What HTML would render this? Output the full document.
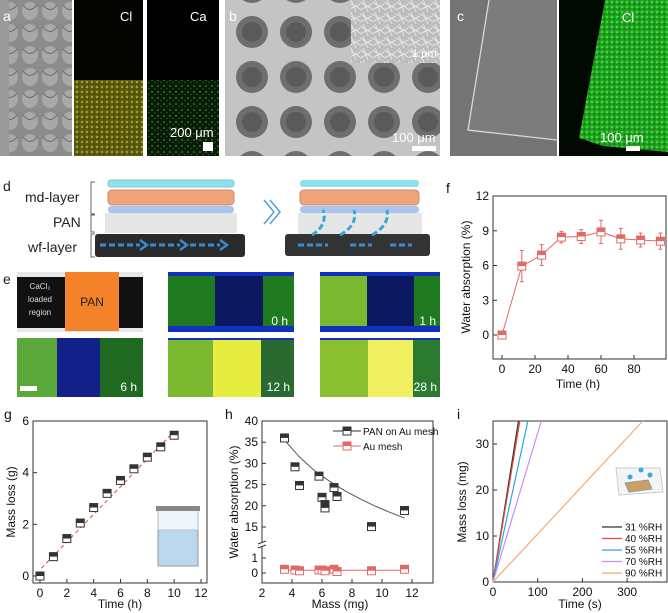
<!DOCTYPE html>
<html><head><meta charset="utf-8">
<style>
body{margin:0;background:#fff;width:668px;height:613px;overflow:hidden;font-family:"Liberation Sans",sans-serif}
svg{display:block}
text{font-family:"Liberation Sans",sans-serif}
</style></head>
<body>
<svg id="fig" width="668" height="613" viewBox="0 0 668 613" xmlns="http://www.w3.org/2000/svg">
<defs>
<pattern id="dotsG" width="6" height="6" patternUnits="userSpaceOnUse"><rect width="6" height="6" fill="#0a1a08"/><circle cx="2" cy="2" r="0.9" fill="#2f9a2a"/><circle cx="5" cy="4.5" r="0.7" fill="#1f6a1a"/></pattern>
<pattern id="dotsY" width="5" height="5" patternUnits="userSpaceOnUse"><rect width="5" height="5" fill="#5a5a10"/><circle cx="2" cy="2" r="1.2" fill="#a8a020"/><circle cx="4" cy="4" r="0.6" fill="#2a2a05"/></pattern>
<pattern id="dotsGG" width="5" height="5" patternUnits="userSpaceOnUse"><rect width="5" height="5" fill="#1f9e1f"/><circle cx="2" cy="2" r="1.3" fill="#3fd83f"/><circle cx="4.2" cy="4" r="0.7" fill="#0e5a0e"/></pattern>
<pattern id="weave" width="20" height="22" patternUnits="userSpaceOnUse"><rect width="20" height="22" fill="#8c8c8c"/><ellipse cx="10" cy="11" rx="8" ry="9" fill="#a8a8a8"/><path d="M3 5 Q10 14 17 5" stroke="#6a6a6a" fill="none"/></pattern>
<pattern id="mesh" width="44" height="45" patternUnits="userSpaceOnUse" x="230" y="10"><rect width="44" height="45" fill="#c4c4c4"/><circle cx="22" cy="22" r="16" fill="#6e6e6e"/><circle cx="22" cy="22" r="10" fill="#5a5a5a"/></pattern>
<pattern id="fib" width="12" height="12" patternUnits="userSpaceOnUse"><rect width="12" height="12" fill="#bdbdbd"/><path d="M0 2 L12 9 M3 0 L8 12 M0 10 L12 4" stroke="#eee" stroke-width="0.8"/></pattern>
</defs>

<g>
<rect x="0" y="0" width="72" height="156" fill="url(#weave)"/>
<rect x="0" y="0" width="9" height="156" fill="#9a9a9a"/>
<rect x="74" y="0" width="69" height="156" fill="#050500"/>
<rect x="74" y="80" width="69" height="76" fill="url(#dotsY)"/>
<rect x="147" y="0" width="72" height="156" fill="#000"/>
<rect x="147" y="80" width="72" height="76" fill="url(#dotsG)"/>
<text x="3" y="21" font-size="14" fill="#fff">a</text>
<text x="120" y="21" font-size="13" fill="#fff">Cl</text>
<text x="190" y="21" font-size="13" fill="#fff">Ca</text>
<text x="170" y="137" font-size="13" fill="#fff">200 μm</text>
<rect x="203" y="142" width="10" height="9" fill="#fff"/>
</g>

<g>
<rect x="225" y="0" width="215" height="156" fill="url(#mesh)"/>
<rect x="351" y="0" width="89" height="63" fill="url(#fib)"/>
<text x="229" y="21" font-size="14" fill="#fff">b</text>
<text x="412" y="57" font-size="11" fill="#fff">1 μm</text>
<text x="392" y="142" font-size="13" fill="#fff">100 μm</text>
<rect x="412" y="146" width="24" height="5" fill="#fff"/>
</g>

<g>
<rect x="450" y="0" width="107" height="156" fill="#7c7c7c"/>
<polygon points="450,0 489,0 468,132 557,140 557,156 450,156" fill="#747474"/>
<path d="M489 0 L468 130 L557 140" stroke="#d8d8d8" stroke-width="1.3" fill="none"/>
<rect x="559" y="0" width="109" height="156" fill="#020802"/>
<polygon points="605,0 668,0 668,152 603,146 579,138" fill="url(#dotsGG)"/>
<text x="457" y="21" font-size="14" fill="#fff">c</text>
<text x="622" y="22" font-size="13" fill="#fff">Cl</text>
<text x="600" y="142" font-size="13" fill="#fff">100 μm</text>
<rect x="626" y="146" width="14" height="5" fill="#fff"/>
</g>

<g>
<text x="3" y="191" font-size="14" fill="#222">d</text>
<text x="25" y="202" font-size="14" fill="#222">md-layer</text>
<text x="53" y="227" font-size="14" fill="#222">PAN</text>
<text x="28" y="252" font-size="14" fill="#222">wf-layer</text>
<path d="M95 182 H91 V214 H95 M95 215 H91 V232 H95 M95 234 H91 V257 H95" stroke="#666" fill="none"/>
<g>
<rect x="108" y="180" width="126" height="7" rx="3" fill="#8fe0ec" stroke="#7cc"/>
<rect x="108" y="190" width="126" height="15" rx="4" fill="#f1a47a" stroke="#c87"/>
<rect x="108" y="206" width="126" height="7" rx="3" fill="#a9c6ef"/>
<rect x="105" y="213" width="132" height="20" fill="#e6e6e6"/>
<rect x="95" y="234" width="150" height="23" rx="3" fill="#2a2a2a"/>
<path d="M100 245 H140 M150 245 H180 M190 245 H220" stroke="#3a8ad0" stroke-width="3" stroke-dasharray="6 3"/>
<path d="M140 240 L147 245 L140 250 M180 240 L187 245 L180 250 M220 240 L227 245 L220 250" stroke="#3a8ad0" stroke-width="2.5" fill="none"/>
</g>
<path d="M264 200 L274 212 L264 224 M270 200 L280 212 L270 224" stroke="#4aa0e0" stroke-width="1.5" fill="none"/>
<g>
<rect x="300" y="180" width="119" height="7" rx="3" fill="#8fe0ec"/>
<rect x="300" y="190" width="119" height="15" rx="4" fill="#f1a47a" stroke="#c87"/>
<rect x="300" y="206" width="119" height="7" rx="3" fill="#a9c6ef"/>
<rect x="298" y="213" width="124" height="21" fill="#e6e6e6"/>
<rect x="285" y="234" width="145" height="22" rx="3" fill="#333"/>
<path d="M298 245 H328 M350 245 H372 M390 245 H412" stroke="#3a8ad0" stroke-width="3" stroke-dasharray="6 3"/>
<path d="M312 235 Q328 225 323 210 M340 235 Q358 225 354 210 M372 235 Q390 225 387 210" stroke="#3aa6d8" stroke-width="3" stroke-dasharray="6 3" fill="none"/>
</g>
</g>

<g>
<text x="3" y="284" font-size="14" fill="#222">e</text>
<rect x="17" y="272" width="126" height="60" fill="#e8e8e8"/>
<rect x="17" y="277" width="126" height="51" fill="#111"/>
<rect x="65" y="272" width="54" height="59" fill="#f4822a"/>
<text x="40" y="289" font-size="8" fill="#ddd" text-anchor="middle">CaCl₂</text>
<text x="40" y="302" font-size="8" fill="#ddd" text-anchor="middle">loaded</text>
<text x="40" y="315" font-size="8" fill="#ddd" text-anchor="middle">region</text>
<text x="92" y="306" font-size="12" fill="#222" text-anchor="middle">PAN</text>
<g><rect x="168" y="272" width="126" height="60" fill="#1030c0"/><rect x="168" y="276" width="47" height="50" fill="#1f7a20"/><rect x="215" y="276" width="48" height="50" fill="#0c1860"/><rect x="263" y="276" width="31" height="50" fill="#1f7a20"/><text x="288" y="325" font-size="12" fill="#fff" text-anchor="end">0 h</text></g>
<g><rect x="320" y="272" width="120" height="60" fill="#1030c0"/><rect x="320" y="276" width="47" height="50" fill="#7ab830"/><rect x="367" y="276" width="47" height="50" fill="#0c1860"/><rect x="414" y="276" width="26" height="50" fill="#1f7a20"/><text x="436" y="325" font-size="12" fill="#fff" text-anchor="end">1 h</text></g>
<g><rect x="17" y="338" width="126" height="59" fill="#1030c0"/><rect x="17" y="338" width="40" height="59" fill="#5aa83a"/><rect x="57" y="338" width="43" height="59" fill="#14208a"/><rect x="100" y="338" width="43" height="59" fill="#1f6a20"/><rect x="20" y="386" width="17" height="5" fill="#fff"/><text x="137" y="391" font-size="12" fill="#fff" text-anchor="end">6 h</text></g>
<g><rect x="168" y="338" width="126" height="59" fill="#1030c0"/><rect x="168" y="340" width="45" height="57" fill="#7ab830"/><rect x="213" y="340" width="48" height="57" fill="#e6ec40"/><rect x="261" y="340" width="33" height="57" fill="#2a6a30"/><text x="290" y="391" font-size="12" fill="#fff" text-anchor="end">12 h</text></g>
<g><rect x="320" y="338" width="120" height="59" fill="#1030c0"/><rect x="320" y="340" width="48" height="57" fill="#8ac030"/><rect x="368" y="340" width="45" height="57" fill="#f0f060"/><rect x="413" y="340" width="27" height="57" fill="#2a7a30"/><text x="437" y="391" font-size="12" fill="#fff" text-anchor="end">28 h</text></g>
</g>

<g id="charts"></g>
</svg>

<script>
const fTime = [0, 12, 24, 36, 48, 60, 72, 84, 96];
const fAbs = [0, 5.95, 6.9, 8.45, 8.5, 8.9, 8.3, 8.2, 8.1];
const fErr = [0.1, 1.35, 0.9, 0.5, 0.6, 1.0, 0.9, 0.6, 0.7];
const fXTicks = [0, 20, 40, 60, 80];
const fYTicks = [0, 3, 6, 9, 12];

const gTime = [0, 1, 2, 3, 4, 5, 6, 7, 8, 9, 10];
const gMass = [0, 0.75, 1.45, 2.05, 2.65, 3.2, 3.7, 4.15, 4.6, 5.0, 5.45];
const gFitX = [0.1, 10];
const gFitY = [0.3, 5.6];
const gXTicks = [0, 2, 4, 6, 8, 10, 12];
const gYTicks = [0, 2, 4, 6];

const hPanMass = [3.5, 4.2, 4.5, 5.8, 6.0, 6.2, 6.2, 6.8, 7.0, 9.3, 11.5];
const hPanAbs = [36, 29.2, 24.8, 27, 22, 20.3, 19.5, 24.3, 22.2, 15.1, 18.9];
const hAuMass = [3.5, 4.2, 4.5, 5.8, 6.0, 6.2, 6.8, 7.0, 9.3, 11.5];
const hAuAbs = [0.25, 0.2, 0.15, 0.2, 0.2, 0.15, 0.25, 0.1, 0.15, 0.25];
const hFitX = [3.5, 4.5, 5.5, 6.5, 7.5, 8.5, 9.5, 10.5, 11.5];
const hFitY = [35.5, 31.5, 28.3, 25.8, 23.6, 21.7, 20.0, 18.5, 17.1];
const hXTicks = [2, 4, 6, 8, 10, 12];
const hYTicksUpper = [15, 20, 25, 30, 35, 40];
const hYTicksLower = [0, 1];

const iLabels = ['31 %RH', '40 %RH', '55 %RH', '70 %RH', '90 %RH'];
const iEndTime = [57, 60, 78, 108, 335];
const iEndMass = [35, 35, 35, 35, 35];
const iColors = ['#333333', '#e0463a', '#2aa6e0', '#c78cf8', '#f6aa70'];
const iXTicks = [0, 100, 200, 300];
const iYTicks = [0, 10, 20, 30];

const NS = 'http://www.w3.org/2000/svg';
const root = document.getElementById('charts');
function mk(tag, attrs, parent) {
  const e = document.createElementNS(NS, tag);
  for (const k in attrs) e.setAttribute(k, attrs[k]);
  (parent || root).appendChild(e);
  return e;
}
function txt(s, x, y, size, anchor, parent, rot) {
  const t = mk('text', {x: x, y: y, 'font-size': size, fill: '#111', 'text-anchor': anchor || 'middle'}, parent);
  if (rot) t.setAttribute('transform', 'rotate(-90 ' + x + ' ' + y + ')');
  t.textContent = s;
  return t;
}
function marker(g, x, y, color) {
  const m = mk('g', {}, g);
  
  
  mk('rect', {x: x - 4, y: y - 4, width: 8, height: 8, fill: '#fff', stroke: color, 'stroke-width': 1}, m);
  mk('rect', {x: x - 4, y: y - 4, width: 8, height: 4, fill: color}, m);
}
function axes(g, L, R, T, B) {
  mk('rect', {x: L, y: T, width: R - L, height: B - T, fill: 'none', stroke: '#333', 'stroke-width': 1}, g);
}

(function () {
  const g = mk('g', {});
  
  
  const L = 493, R = 666, T = 196, B = 359;
  const x = v => 502 + v * (634 - 502) / 80;
  const y = v => 335 - v * (335 - 196) / 12;
  axes(g, L, R, T, B);
  txt('f', 446, 193, 14, 'start', g);
  fXTicks.forEach(v => { mk('line', {x1: x(v), x2: x(v), y1: B, y2: B - 4, stroke: '#333'}, g); txt(v, x(v), B + 14, 12, 'middle', g); });
  fYTicks.forEach(v => { mk('line', {x1: L, x2: L + 4, y1: y(v), y2: y(v), stroke: '#333'}, g); txt(v, L - 4, y(v) + 4, 12, 'end', g); });
  const xl = txt('Time (h)', 578, 388, 12, 'middle', g);
  
  
  const yl = txt('Water absorption (%)', 470, 277, 12, 'middle', g, true);
  
  
  const col = '#e06a64';
  mk('polyline', {points: fTime.map((t, i) => x(t) + ',' + y(fAbs[i])).join(' '), fill: 'none', stroke: col, 'stroke-width': 1}, g);
  fTime.forEach((t, i) => {
    const xx = x(t);
    mk('line', {x1: xx, x2: xx, y1: y(fAbs[i] + fErr[i]), y2: y(fAbs[i] - fErr[i]), stroke: col}, g);
    mk('line', {x1: xx - 2, x2: xx + 2, y1: y(fAbs[i] + fErr[i]), y2: y(fAbs[i] + fErr[i]), stroke: col}, g);
    mk('line', {x1: xx - 2, x2: xx + 2, y1: y(fAbs[i] - fErr[i]), y2: y(fAbs[i] - fErr[i]), stroke: col}, g);
    marker(g, xx, y(fAbs[i]), col);
  });
})();

(function () {
  const g = mk('g', {});
  
  
  const L = 33, R = 207, T = 421, B = 583;
  const x = v => 40 + v * (201 - 40) / 12;
  const y = v => 576 - v * (576 - 421) / 6;
  axes(g, L, R, T, B);
  txt('g', 4, 419, 14, 'start', g);
  gXTicks.forEach(v => { mk('line', {x1: x(v), x2: x(v), y1: B, y2: B - 4, stroke: '#333'}, g); txt(v, x(v), B + 14, 12, 'middle', g); });
  gYTicks.forEach(v => { mk('line', {x1: L, x2: L + 4, y1: y(v), y2: y(v), stroke: '#333'}, g); txt(v, L - 4, y(v) + 4, 12, 'end', g); });
  const xl = txt('Time (h)', 120, 608, 12, 'middle', g);
  
  
  const yl = txt('Mass loss (g)', 15, 502, 12, 'middle', g, true);
  
  
  const fit = mk('line', {x1: x(gFitX[0]), y1: y(gFitY[0]), x2: x(gFitX[1]), y2: y(gFitY[1]), stroke: '#e04a40', 'stroke-dasharray': '4 3'}, g);
  
  
  gTime.forEach((t, i) => marker(g, x(t), y(gMass[i]), '#333'));
  const ins = mk('g', {}, g);
  
  
  mk('rect', {x: 158, y: 530, width: 40, height: 36, fill: '#bcd8ee', stroke: '#999'}, ins);
  mk('rect', {x: 158, y: 510, width: 40, height: 20, fill: '#eef5fb', stroke: '#bbb'}, ins);
  mk('rect', {x: 156, y: 506, width: 44, height: 5, fill: '#888'}, ins);
})();

(function () {
  const g = mk('g', {});
  
  
  const L = 262, R = 433, T = 421, B = 583;
  const x = v => 262 + (v - 2) * 15;
  const y = v => v >= 10 ? 421 + (40 - v) * (527 - 421) / 25 : 573 - v * 15;
  axes(g, L, R, T, B);
  mk('rect', {x: L - 4, y: 542, width: 8, height: 5, fill: '#fff'}, g);
  mk('path', {d: 'M' + (L - 4) + ' 544 l8 -3 M' + (L - 4) + ' 548 l8 -3', stroke: '#333'}, g);
  txt('h', 225, 419, 14, 'start', g);
  hXTicks.forEach(v => { mk('line', {x1: x(v), x2: x(v), y1: B, y2: B - 4, stroke: '#333'}, g); txt(v, x(v), B + 14, 12, 'middle', g); });
  hYTicksUpper.concat(hYTicksLower).forEach(v => { mk('line', {x1: L, x2: L + 4, y1: y(v), y2: y(v), stroke: '#333'}, g); txt(v, L - 4, y(v) + 4, 12, 'end', g); });
  const xl = txt('Mass (mg)', 340, 608, 12, 'middle', g);
  
  
  const yl = txt('Water absorption (%)', 238, 502, 12, 'middle', g, true);
  
  
  const fit = mk('polyline', {points: hFitX.map((v, i) => x(v) + ',' + y(hFitY[i])).join(' '), fill: 'none', stroke: '#555', 'stroke-width': 1}, g);
  
  
  mk('line', {x1: x(hAuMass[0]), x2: x(hAuMass[hAuMass.length - 1]), y1: y(0.18), y2: y(0.18), stroke: '#e06a64'}, g);
  hPanMass.forEach((m, i) => marker(g, x(m), y(hPanAbs[i]), '#333'));
  hAuMass.forEach((m, i) => marker(g, x(m), y(hAuAbs[i]), '#e06a64'));
  const l1 = mk('g', {}, g);
  
  
  mk('line', {x1: 333, x2: 361, y1: 431, y2: 431, stroke: '#333'}, l1);
  marker(l1, 347, 431, '#333');
  txt('PAN on Au mesh', 363, 435, 10, 'start', l1);
  const l2 = mk('g', {}, g);
  
  
  mk('line', {x1: 333, x2: 361, y1: 446, y2: 446, stroke: '#e06a64'}, l2);
  marker(l2, 347, 446, '#e06a64');
  txt('Au mesh', 363, 450, 10, 'start', l2);
})();

(function () {
  const g = mk('g', {});
  
  
  const L = 493, R = 668, T = 421, B = 582;
  const x = v => 493 + v * 0.447;
  const y = v => 582 - v * 4.6;
  axes(g, L, R - 1, T, B);
  txt('i', 457, 419, 14, 'start', g);
  iXTicks.forEach(v => { mk('line', {x1: x(v), x2: x(v), y1: B, y2: B - 4, stroke: '#333'}, g); txt(v, x(v), B + 14, 12, 'middle', g); });
  iYTicks.forEach(v => { mk('line', {x1: L, x2: L + 4, y1: y(v), y2: y(v), stroke: '#333'}, g); txt(v, L - 4, y(v) + 4, 12, 'end', g); });
  const xl = txt('Time (s)', 580, 608, 12, 'middle', g);
  
  
  const yl = txt('Mass loss (mg)', 466, 502, 12, 'middle', g, true);
  
  
  iLabels.forEach((lab, i) => {
    const ln = mk('line', {x1: x(0), y1: y(0), x2: x(iEndTime[i]), y2: y(iEndMass[i]), stroke: iColors[i], 'stroke-width': 1.2}, g);
    
    
    const le = mk('g', {}, g);
    
    
    const ly = 527 + i * 11.5;
    mk('line', {x1: 602, x2: 622, y1: ly, y2: ly, stroke: iColors[i], 'stroke-width': 1.2}, le);
    txt(lab, 625, ly + 3.5, 10, 'start', le);
  });
  const ins = mk('g', {}, g);
  
  
  mk('polygon', {points: '616,468 660,468 663,492 619,495', fill: '#f2f4f6', stroke: '#ccc'}, ins);
  mk('polygon', {points: '625,483 648,480 652,489 629,492', fill: '#c9a060', stroke: '#999'}, ins);
  mk('circle', {cx: 641, cy: 470, r: 2.5, fill: '#3aa6e0'}, ins);
  mk('circle', {cx: 630, cy: 477, r: 2.5, fill: '#3aa6e0'}, ins);
  mk('circle', {cx: 650, cy: 475, r: 2.5, fill: '#3aa6e0'}, ins);
})();
</script>
</body></html>
